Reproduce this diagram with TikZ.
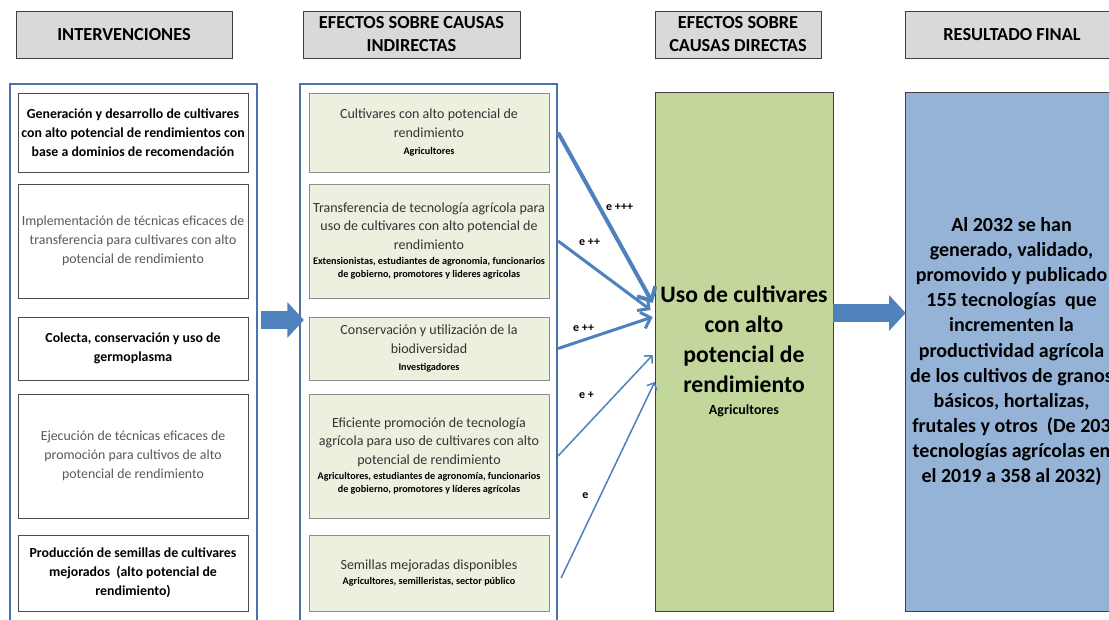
\documentclass[tikz,border=0pt]{standalone}
\usepackage{fontspec}
\setmainfont{Carlito}
\usetikzlibrary{arrows.meta, positioning, calc}

\definecolor{hdrgray}{HTML}{D9D9D9}
\definecolor{frameblue}{HTML}{4A72AC}
\definecolor{palegreen}{HTML}{EBF1DE}
\definecolor{leafgreen}{HTML}{C3D69B}
\definecolor{skyblue}{HTML}{95B3D7}
\definecolor{arrowblue}{HTML}{4F81BD}

\newcommand{\smalltxt}{\bfseries\color{black}\fontsize{6.1}{7.8}\selectfont}

\begin{document}
\begin{tikzpicture}[x=0.6pt, y=-0.6pt,
  header/.style={draw=black!75, fill=hdrgray, align=center, inner sep=1pt,
    font=\bfseries\fontsize{11}{13.8}\selectfont, minimum height=28.2pt},
  frame/.style={draw=frameblue, line width=1.3pt, minimum height=333.6pt},
  ibox/.style={draw=black!70, fill=white, align=flush center, inner sep=1pt,
    text width=136pt, font=\fontsize{8.3}{11.4}\selectfont},
  ebox/.style={draw=black!45, fill=palegreen, align=flush center, inner sep=1pt,
    text width=142pt, text=black!80, font=\fontsize{8.4}{11.2}\selectfont},
  link/.style={draw=arrowblue, -{Straight Barb}},
  lbl/.style={font=\bfseries\fontsize{7.2}{8}\selectfont, inner sep=0pt},
  bigarrow/.style={draw=arrowblue, line width=10.5pt, -{Triangle[length=10pt, width=21pt]}}
]
  \useasboundingbox (0,0) rectangle (1109,620);
  \fill[white] (0,0) rectangle (1109,620);
  \clip (0,0) rectangle (1109,620);

  %% HEADERS
  \node[header, minimum width=129.6pt] (h1) at (124,34.5) {INTERVENCIONES};
  \node[header, minimum width=130.2pt] (h2) at (411.5,34.5) {EFECTOS SOBRE CAUSAS\\INDIRECTAS};
  \node[header, minimum width=99.6pt] (h3) at (738,34.5) {EFECTOS SOBRE\\CAUSAS DIRECTAS};
  \node[header, minimum width=128.4pt] (h4) at (1012,34.5) {RESULTADO FINAL};

  %% CONTAINERS
  \node[frame, minimum width=148.2pt] (leftc) at (133.5,362) {};
  \node[frame, minimum width=154.2pt] (midc) at (428.5,362) {};

  %% INTERVENCIONES
  \node[ibox, minimum height=47.4pt, font=\bfseries\fontsize{8.3}{11.4}\selectfont] (b1) at (133,132.5)
    {Generación y desarrollo de cultivares\\con alto potencial de rendimientos con\\base a dominios de recomendación};
  \node[ibox, minimum height=68.4pt, text=black!65] (b2) at (133,241)
    {Implementación de técnicas eficaces de\\transferencia para cultivares con alto\\potencial de rendimiento};
  \node[ibox, minimum height=37.8pt, font=\bfseries\fontsize{8.3}{11.4}\selectfont] (b3) at (133,348.5)
    {Colecta, conservación y uso de\\germoplasma};
  \node[ibox, minimum height=74.4pt, text=black!65] (b4) at (133,456)
    {Ejecución de técnicas eficaces de\\promoción para cultivos de alto\\potencial de rendimiento};
  \node[ibox, minimum height=45.6pt, font=\bfseries\fontsize{8.3}{11.4}\selectfont] (b5) at (133,573)
    {Producción de semillas de cultivares\\mejorados\ \ (alto potencial de\\rendimiento)};

  %% EFECTOS SOBRE CAUSAS INDIRECTAS
  \node[ebox, minimum height=47.4pt] (m1) at (429,132.5)
    {Cultivares con alto potencial de\\rendimiento\\[2.5pt]{\smalltxt Agricultores\par}};
  \node[ebox, minimum height=68.4pt] (m2) at (429,241)
    {Transferencia de tecnología agrícola para\\uso de cultivares con alto potencial de\\rendimiento\\[1.5pt]
     {\smalltxt Extensionistas, estudiantes de agronomia, funcionarios\\de gobierno, promotores y lideres agricolas\par}};
  \node[ebox, minimum height=37.8pt] (m3) at (429,348.5)
    {Conservación y utilización de la\\biodiversidad\\[2.5pt]{\smalltxt Investigadores\par}};
  \node[ebox, minimum height=74.4pt] (m4) at (429,456)
    {Eficiente promoción de tecnología\\agrícola para uso de cultivares con alto\\potencial de rendimiento\\[1.5pt]
     {\smalltxt Agricultores, estudiantes de agronomía, funcionarios\\de gobierno, promotores y líderes agrícolas\par}};
  \node[ebox, minimum height=45.6pt] (m5) at (429,573)
    {Semillas mejoradas disponibles\\[1.5pt]{\smalltxt Agricultores, semilleristas, sector público\par}};

  %% CAUSA DIRECTA Y RESULTADO
  \node[draw=black!75, fill=leafgreen, minimum width=106.8pt, minimum height=311.4pt,
    align=center, inner sep=1pt, font=\bfseries\fontsize{14.2}{18}\selectfont] (green) at (744,351.5)
    {Uso de cultivares\\con alto\\potencial de\\rendimiento\\[-5pt]{\fontsize{8.4}{9}\selectfont Agricultores}};
  \node[draw=black!75, fill=skyblue, minimum width=127.8pt, minimum height=311.4pt,
    align=center, inner sep=1pt, font=\bfseries\fontsize{12}{15.1}\selectfont] (final) at (1011.5,351.5)
    {Al 2032 se han\\generado, validado,\\promovido y publicado\\155 tecnologías\ \ que\\incrementen la\\productividad agrícola\\de los cultivos de granos\\básicos, hortalizas,\\frutales y otros\ \ (De 203\\tecnologías agrícolas en\\el 2019 a 358 al 2032)};

  %% BLOCK ARROWS
  \draw[bigarrow] ($(leftc.east)+(3,-42)$) -- ($(midc.west)+(5,-42)$);
  \draw[bigarrow] ($(green.east)+(0,-38.5)$) -- ($(final.west)+(1,-38.5)$);

  %% CONNECTORS TO THE DIRECT CAUSE
  \draw[link, line width=2.4pt] (midc.east |- m1) -- ($(green.west)+(-2,-48.5)$)
    node[lbl, pos=.44, xshift=12pt] {e +++};
  \draw[link, line width=1.8pt] (midc.east |- m2) -- ($(green.west)+(-4,-41.5)$)
    node[lbl, pos=.34, yshift=13.2pt] {e ++};
  \draw[link, line width=1.8pt] (midc.east |- m3) -- ($(green.west)+(-2,-34.5)$)
    node[lbl, pos=.27, yshift=7.2pt] {e ++};
  \draw[link, line width=0.9pt] (midc.east |- m4) -- ($(green.west)+(-2,3.5)$)
    node[lbl, pos=.3, yshift=18pt] {e +};
  \draw[link, line width=0.9pt] ($(midc.east |- m5)+(3,5)$) -- ($(green.west)+(0,30.5)$)
    node[lbl, pos=.42, xshift=-9pt] {e};
\end{tikzpicture}
\end{document}
